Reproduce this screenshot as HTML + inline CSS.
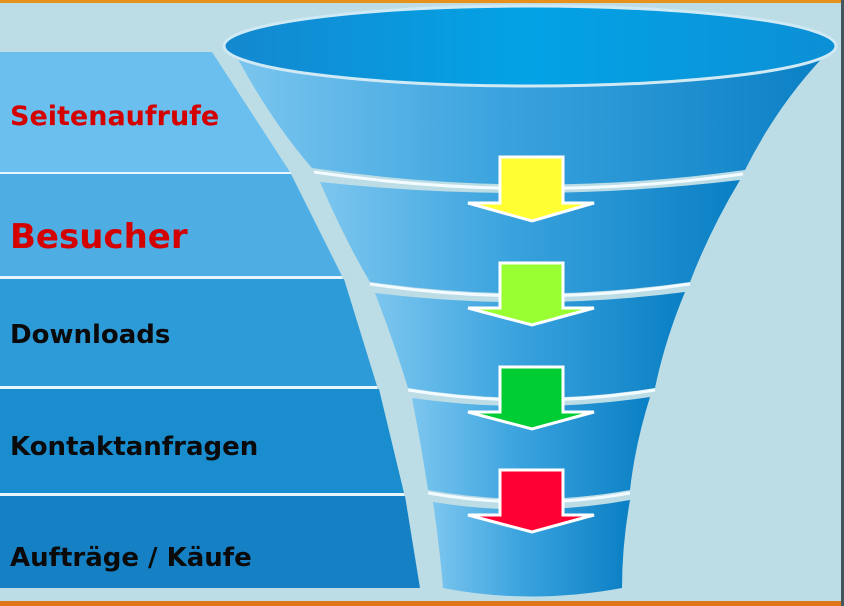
<!DOCTYPE html>
<html><head><meta charset="utf-8"><style>
html,body{margin:0;padding:0;background:#bcdce6}
svg{display:block}
text{font-family:"DejaVu Sans","Liberation Sans",sans-serif;font-weight:bold}
</style></head><body>
<svg width="844" height="606" viewBox="0 0 844 606" xmlns="http://www.w3.org/2000/svg">
<defs>
<linearGradient id="fg" x1="0" x2="1" y1="0" y2="0">
<stop offset="0" stop-color="#7cc6ef"/><stop offset="0.45" stop-color="#3aa3de"/><stop offset="1" stop-color="#0a7fc4"/>
</linearGradient>
<linearGradient id="tg" x1="0" x2="1" y1="0" y2="0">
<stop offset="0" stop-color="#1488cf"/><stop offset="0.5" stop-color="#03a3e6"/><stop offset="1" stop-color="#0c8fd5"/>
</linearGradient>
</defs>
<rect width="844" height="606" fill="#bcdce6"/>
<rect width="844" height="3" fill="#e8901c"/>
<rect y="601" width="844" height="5" fill="#e0741a"/>
<rect x="841" width="3" height="606" fill="#45555e"/>
<polygon points="0,52 212,52 290,172 0,172" fill="#6abfee"/>
<polygon points="0,174 291,174 342,276 0,276" fill="#4eaee4"/>
<polygon points="0,279 344,279 377,386 0,386" fill="#2d9bd8"/>
<polygon points="0,389 379,389 404,493 0,493" fill="#1a8dcf"/>
<polygon points="0,496 405,496 420,588 0,588" fill="#1581c4"/>
<rect x="0" y="172" width="291" height="2" fill="#e8f6fc"/>
<rect x="0" y="276" width="342" height="3" fill="#e8f6fc"/>
<rect x="0" y="386" width="377" height="3" fill="#e8f6fc"/>
<rect x="0" y="493" width="404" height="3" fill="#e8f6fc"/>
<path d="M232,48 Q270,120 312,168 Q530,200 745,170 Q780,100 832,48 Z" fill="url(#fg)"/>
<path d="M320,182 Q345,240 370,282 Q530,305 690,282 Q710,230 740,180 Q530,205 320,182 Z" fill="url(#fg)"/>
<path d="M375,293 Q395,345 408,388 Q530,408 655,388 Q665,340 685,292 Q530,312 375,293 Z" fill="url(#fg)"/>
<path d="M412,398 Q422,450 428,490 Q530,508 630,490 Q635,445 650,397 Q530,415 412,398 Z" fill="url(#fg)"/>
<path d="M433,502 Q440,550 443,588 Q530,605 622,588 Q622,545 630,500 Q530,518 433,502 Z" fill="url(#fg)"/>
<g fill="none" stroke="#f2fbff" stroke-width="3">
<path d="M314,172 Q530,204 743,174"/>
<path d="M370,284 Q530,308 690,284"/>
<path d="M408,390 Q530,410 655,390"/>
<path d="M428,493 Q530,511 630,493"/>
</g>
<ellipse cx="530" cy="46" rx="306" ry="40" fill="url(#tg)" stroke="#cfe9f5" stroke-width="3"/>
<g stroke="#ffffff" stroke-width="3" stroke-linejoin="miter">
<path d="M500,157 H563 V203 H594 L532,221 L468,203 H500 Z" fill="#ffff33"/>
<path d="M500,263 H563 V308 H594 L532,325 L468,308 H500 Z" fill="#99ff33"/>
<path d="M500,367 H563 V412 H594 L532,429 L468,412 H500 Z" fill="#00cc33"/>
<path d="M500,470 H563 V515 H594 L532,532 L468,515 H500 Z" fill="#ff0033"/>
</g>
<text x="10" y="125" font-size="27" fill="#d40000">Seitenaufrufe</text>
<text x="10" y="248" font-size="34" fill="#d40000">Besucher</text>
<text x="10" y="343" font-size="26" fill="#0a0a0a">Downloads</text>
<text x="10" y="455" font-size="26" fill="#0a0a0a">Kontaktanfragen</text>
<text x="10" y="566" font-size="26" fill="#0a0a0a">Aufträge / Käufe</text>
</svg>
</body></html>
